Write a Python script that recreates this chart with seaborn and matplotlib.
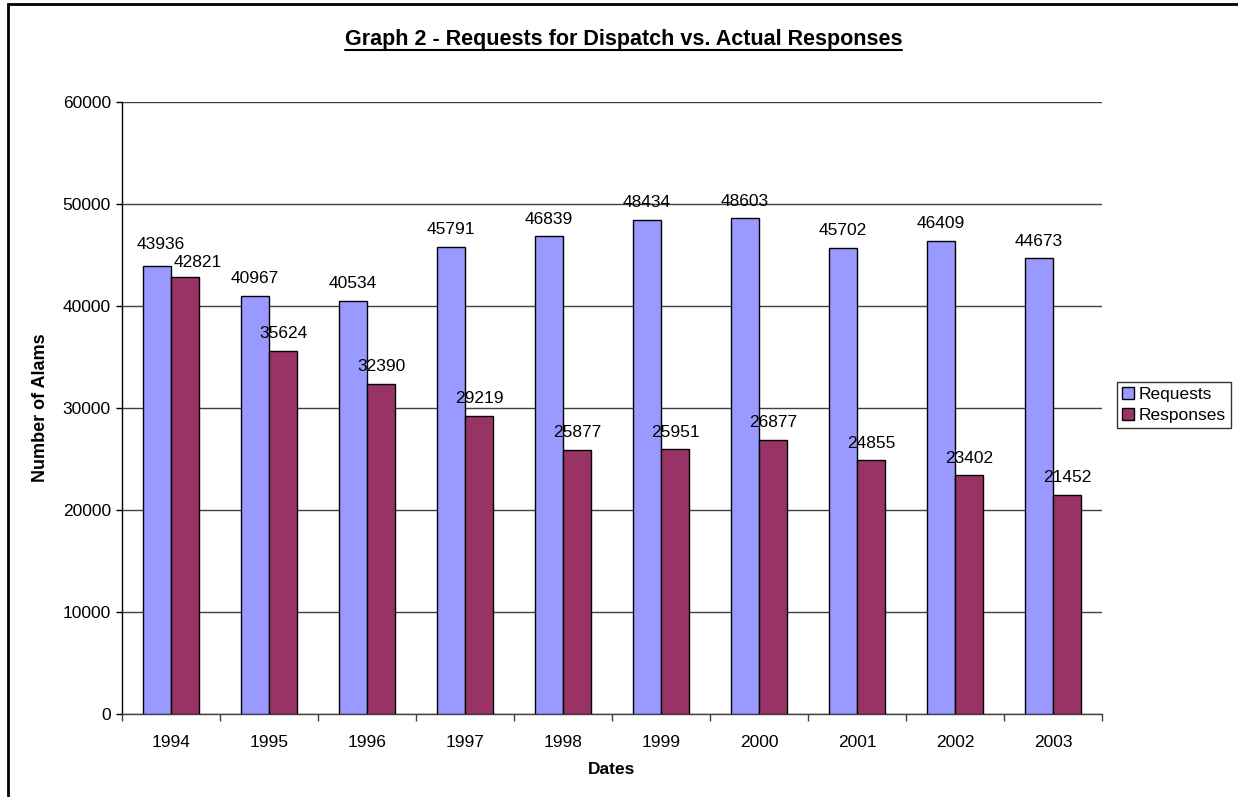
import matplotlib
matplotlib.use("Agg")
import matplotlib.pyplot as plt
from matplotlib.patches import Rectangle
from matplotlib.lines import Line2D
from matplotlib.ticker import FixedLocator, NullFormatter
import pandas as pd
import seaborn as sns

years = ["1994", "1995", "1996", "1997", "1998", "1999", "2000", "2001", "2002", "2003"]
requests = [43936, 40967, 40534, 45791, 46839, 48434, 48603, 45702, 46409, 44673]
responses = [42821, 35624, 32390, 29219, 25877, 25951, 26877, 24855, 23402, 21452]
series_names = ["Requests", "Responses"]
series_colors = ["#9999FF", "#993366"]
y_ticks = [0, 10000, 20000, 30000, 40000, 50000, 60000]

df = pd.DataFrame({
    "Dates": years * 2,
    "Alarms": requests + responses,
    "Series": [series_names[0]] * len(years) + [series_names[1]] * len(years),
})

sns.set_style("white")
plt.rcParams["font.family"] = ["Liberation Sans", "DejaVu Sans"]
plt.rcParams.update({"text.color": "black", "axes.labelcolor": "black",
                     "xtick.color": "black", "ytick.color": "black"})

fig = plt.figure(figsize=(12.38, 7.97), dpi=100)
W, H = 1238, 797
ax = fig.add_axes([122 / W, 1 - 714 / H, (1102 - 122) / W, (714 - 102) / H])

sns.barplot(data=df, x="Dates", y="Alarms", hue="Series", hue_order=series_names,
            palette=dict(zip(series_names, series_colors)), width=0.58, gap=0,
            edgecolor="black", linewidth=1, saturation=1, legend=False, ax=ax, zorder=3)

ax.set_xlim(-0.5, len(years) - 0.5)
ax.set_ylim(0, 60000)
ax.set_yticks(y_ticks)
ax.set_yticklabels([str(v) for v in y_ticks], fontsize=12.5)
ax.yaxis.grid(True, color="#404040", linewidth=1, zorder=0)
ax.xaxis.grid(False)
ax.set_axisbelow(True)

for s in ["top", "right"]:
    ax.spines[s].set_visible(False)
ax.spines["left"].set_color("black")
ax.spines["bottom"].set_color("#404040")
ax.spines["left"].set_linewidth(1)
ax.spines["bottom"].set_linewidth(1)

ax.tick_params(axis="y", which="major", direction="out", length=4, width=1,
               color="black", left=True, pad=4, labelcolor="black")
ax.tick_params(axis="x", which="major", length=0, labelsize=12.5, pad=15,
               labelcolor="black")
ax.xaxis.set_minor_locator(FixedLocator([i - 0.5 for i in range(len(years) + 1)]))
ax.xaxis.set_minor_formatter(NullFormatter())
ax.tick_params(axis="x", which="minor", direction="out", length=5, width=1,
               color="#404040", bottom=True)

ax.set_xlabel("Dates", fontsize=12.5, fontweight="bold", labelpad=9, color="black")
ax.set_ylabel("Number of Alams", fontsize=13, fontweight="bold", labelpad=10,
              color="black")

label_sets = []
for cont, vals in zip(ax.containers, [requests, responses]):
    label_sets.append(ax.bar_label(cont, labels=[str(v) for v in vals], padding=7,
                                   fontsize=12.5, color="black"))

# the first pair of labels sit slightly apart so they do not collide
for texts, dx, dy in zip(label_sets, [3, 9], [3, -2]):
    t = texts[0]
    ox, oy = t.xyann
    t.xyann = (ox + dx, oy + dy)

handles = [Rectangle((0, 0), 1, 1, facecolor=c, edgecolor="black", linewidth=1)
           for c in series_colors]
leg = fig.legend(handles, series_names, loc="upper left",
                 bbox_to_anchor=(1117 / W, 1 - 382 / H), fontsize=12.5,
                 frameon=True, fancybox=False, handlelength=0.7, handleheight=0.7,
                 handletextpad=0.25, borderpad=0.3, labelspacing=0.3,
                 borderaxespad=0)
leg.get_frame().set_edgecolor("black")
leg.get_frame().set_linewidth(1)

title = fig.text((340 + 907) / 2 / W, 1 - 45 / H,
                 "Graph 2 - Requests for Dispatch vs. Actual Responses",
                 ha="center", va="baseline", fontsize=15.5, fontweight="bold")
fig.canvas.draw()
bb = title.get_window_extent(renderer=fig.canvas.get_renderer())
uy = 1 - 50 / H
fig.add_artist(Line2D([bb.x0 / W, bb.x1 / W], [uy, uy], color="black",
                      linewidth=1.5, transform=fig.transFigure))

# outer chart frame
fig.add_artist(Rectangle((8 / W, -0.05), 1.2, 1.05 - 4 / H, transform=fig.transFigure,
                         fill=False, edgecolor="black", linewidth=2))

fig.savefig("out.png", dpi=100)
